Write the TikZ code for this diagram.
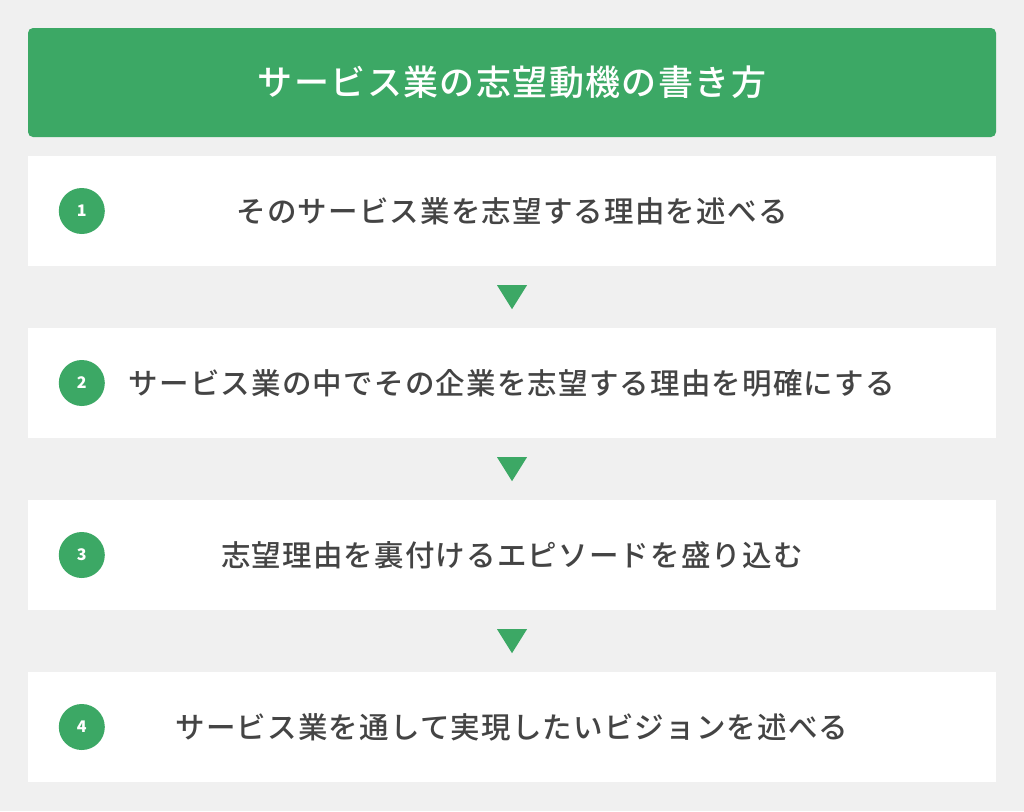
\documentclass[tikz,border=0pt]{standalone}
\usepackage{fontspec}
\newfontfamily\jp{Noto Sans CJK JP}
\newfontfamily\jpmed[LetterSpace=4]{Noto Sans CJK JP Medium}
\usetikzlibrary{positioning}
\definecolor{midgreen}{HTML}{3CA865}
\definecolor{paper}{HTML}{F0F0F0}
\definecolor{ink}{HTML}{444444}

\begin{document}
\begin{tikzpicture}[x=1pt, y=-1pt,
    titlebox/.style = {fill=midgreen, rounded corners=5pt, minimum width=968pt, minimum height=109pt, inner sep=0pt,
                       text=white, font=\jpmed\fontsize{35}{40}\selectfont},
    stepbox/.style = {fill=white, minimum width=968pt, minimum height=110pt, inner sep=0pt,
                      text=ink, font=\jpmed\fontsize{29.5}{34}\selectfont},
    numdot/.style = {circle, fill=midgreen, minimum size=46pt, inner sep=0pt,
                     text=white, font=\jp\bfseries\fontsize{16}{16}\selectfont}]
            \fill[paper] (0,0) rectangle (1024,811);
            \useasboundingbox (0,0) rectangle (1024,811);
            \node[titlebox] (title) at (512,82.5) {サービス業の志望動機の書き方};
            \foreach \i/\txt in {1/そのサービス業を志望する理由を述べる,
                                 2/サービス業の中でその企業を志望する理由を明確にする,
                                 3/志望理由を裏付けるエピソードを盛り込む,
                                 4/サービス業を通して実現したいビジョンを述べる} {
                \node[stepbox] (s\i) at (512,{211+172*(\i-1)}) {\txt};
                \node[numdot] (n\i) at ([xshift=54pt]s\i.west) {\i};
            }
            \foreach \i in {1,2,3}
                \fill[midgreen] (s\i.south) ++(-15,19) -- ++(30,0) -- ++(-15,24) -- cycle;
        \end{tikzpicture}
\end{document}
